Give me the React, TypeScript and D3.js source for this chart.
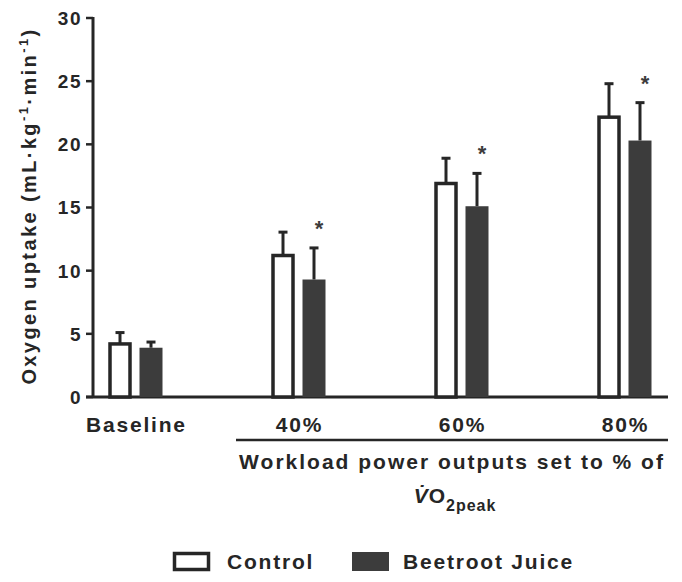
import React from "react";
import * as d3 from "d3";

const categories = ["Baseline", "40%", "60%", "80%"];
const controlMean = [4.2, 11.2, 16.9, 22.15];
const controlErr = [0.9, 1.85, 2.0, 2.65];
const beetMean = [3.9, 9.3, 15.1, 20.3];
const beetErr = [0.45, 2.5, 2.6, 3.0];
const significant = [false, true, true, true];
const yTicks = [0, 5, 10, 15, 20, 25, 30];

const W = 682;
const H = 582;
const font = "'Liberation Sans', Arial, sans-serif";
const ink = "#262626";
const dark = "#3c3c3c";
const ls = 1.8;

export default function App() {
  const y = d3.scaleLinear().domain([0, 30]).range([397, 18]);
  const x = d3.scalePoint<string>().domain(categories).range([135.5, 624.5]);
  const barW = 23;
  const gap = 8;
  const axisX = 93;
  const axisY = y(0);

  return (
    <svg width={W} height={H} style={{ position: "absolute", left: 0, top: 0, background: "#fff" }}>
      {/* y axis */}
      <line x1={axisX} x2={axisX} y1={y(30) - 1} y2={axisY + 1} stroke={ink} strokeWidth={3} />
      {yTicks.map((t) => (
        <g key={t}>
          <line x1={axisX - 7} x2={axisX} y1={y(t)} y2={y(t)} stroke={ink} strokeWidth={2.5} />
          <text x={axisX - 11} y={y(t)} dy="0.36em" textAnchor="end" fontFamily={font} fontWeight="bold" fontSize={19} letterSpacing={1.5} fill={ink}>
            {t}
          </text>
        </g>
      ))}
      {/* x axis */}
      <line x1={axisX - 7} x2={668} y1={axisY} y2={axisY} stroke={ink} strokeWidth={3} />

      {categories.map((c, i) => {
        const cx = x(c) as number;
        const cL = cx - gap / 2 - barW;
        const bL = cx + gap / 2;
        const cTop = y(controlMean[i]);
        const bTop = y(beetMean[i]);
        const cCap = y(controlMean[i] + controlErr[i]);
        const bCap = y(beetMean[i] + beetErr[i]);
        return (
          <g key={c}>
            <line x1={cL + barW / 2} x2={cL + barW / 2} y1={cTop} y2={cCap} stroke={ink} strokeWidth={3} />
            <line x1={cL + barW / 2 - 4.5} x2={cL + barW / 2 + 4.5} y1={cCap} y2={cCap} stroke={ink} strokeWidth={3} />
            <rect x={cL + 1.5} y={cTop} width={barW - 3} height={axisY - cTop} fill="#fff" stroke={ink} strokeWidth={3.5} />
            <line x1={bL + barW / 2} x2={bL + barW / 2} y1={bTop} y2={bCap} stroke={ink} strokeWidth={3} />
            <line x1={bL + barW / 2 - 4.5} x2={bL + barW / 2 + 4.5} y1={bCap} y2={bCap} stroke={ink} strokeWidth={3} />
            <rect x={bL} y={bTop} width={barW} height={axisY - bTop} fill={dark} />
            {significant[i] && (
              <text x={bL + barW / 2 + 5} y={bCap - 12} textAnchor="middle" fontFamily={font} fontWeight="bold" fontSize={22} fill={dark}>
                *
              </text>
            )}
            <text x={cx + ls / 2} y={432} textAnchor="middle" fontFamily={font} fontWeight="bold" fontSize={21} letterSpacing={ls} fill={ink}>
              {c}
            </text>
          </g>
        );
      })}

      {/* group line */}
      <line x1={236} x2={668} y1={440} y2={440} stroke={ink} strokeWidth={2.5} />
      <text x={452} y={469} textAnchor="middle" fontFamily={font} fontWeight="bold" fontSize={21} letterSpacing={2} fill={ink}>
        Workload power outputs set to % of
      </text>
      <text x={455} y={503} textAnchor="middle" fontFamily={font} fontWeight="bold" fontSize={21} letterSpacing={1} fill={ink}>
        <tspan fontStyle="italic">V̇</tspan>O<tspan fontSize={16} dy={8}>2peak</tspan>
      </text>

      {/* y label */}
      <text
        transform={`translate(36, 206) rotate(-90)`}
        textAnchor="middle"
        fontFamily={font}
        fontWeight="bold"
        fontSize={20}
        letterSpacing={2.4}
        fill={ink}
      >
        Oxygen uptake (mL·kg<tspan fontSize={13} dy={-8}>-1</tspan>
        <tspan dy={8}>·min</tspan>
        <tspan fontSize={13} dy={-8}>-1</tspan>
        <tspan dy={8}>)</tspan>
      </text>

      {/* legend */}
      <rect x={174.5} y={553.5} width={34} height={16} fill="#fff" stroke={ink} strokeWidth={3.5} />
      <text x={227} y={569} fontFamily={font} fontWeight="bold" fontSize={21} letterSpacing={ls} fill={ink}>
        Control
      </text>
      <rect x={352} y={552} width={37} height={19} fill={dark} />
      <text x={403} y={569} fontFamily={font} fontWeight="bold" fontSize={21} letterSpacing={ls} fill={ink}>
        Beetroot Juice
      </text>
    </svg>
  );
}
